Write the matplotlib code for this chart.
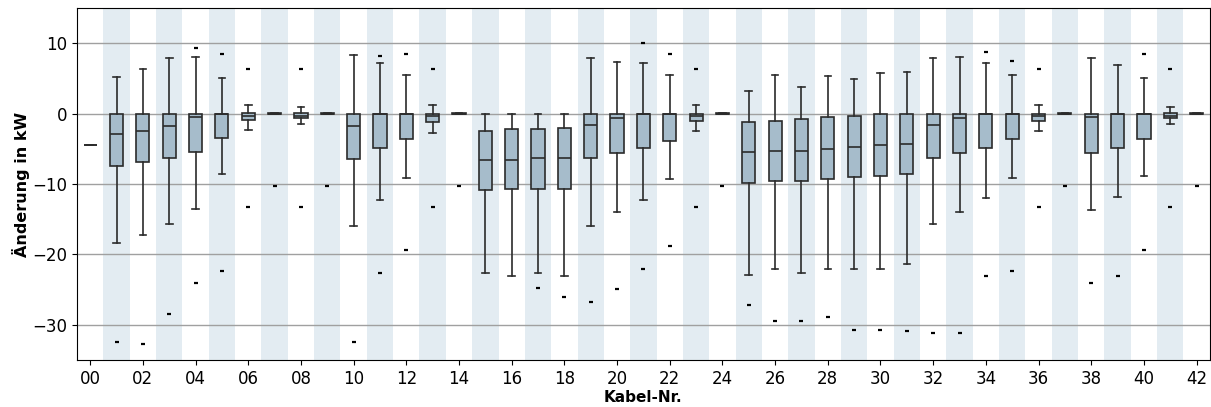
import numpy as np
import matplotlib
matplotlib.use("Agg")
import matplotlib.pyplot as plt

# Kabel-Nr. 00 .. 42
kabel = list(range(43))

q1 = [-4.4, -7.4, -6.9, -6.3, -5.5, -3.5, -0.9, 0.0, -0.6, 0.0,
      -6.4, -4.9, -3.65, -1.2, 0.0, -10.8, -10.7, -10.7, -10.7, -6.35,
      -5.6, -4.9, -3.8, -1.0, 0.0, -9.9, -9.6, -9.5, -9.3, -9.05,
      -8.8, -8.5, -6.35, -5.6, -4.9, -3.65, -1.0, 0.0, -5.6, -4.8,
      -3.65, -0.65, 0.0]
med = [-4.4, -2.9, -2.4, -1.7, -0.4, 0.0, -0.3, 0.0, -0.3, 0.0,
       -1.8, 0.0, 0.0, -0.3, 0.0, -6.6, -6.5, -6.35, -6.35, -1.65,
       -0.6, 0.0, 0.0, -0.3, 0.0, -5.45, -5.3, -5.3, -5.0, -4.75,
       -4.5, -4.25, -1.65, -0.6, 0.0, 0.0, -0.3, 0.0, -0.5, 0.0,
       0.0, -0.3, 0.0]
q3 = [-4.4, 0.0, 0.0, 0.0, 0.0, 0.0, 0.1, 0.1, 0.1, 0.1,
      0.0, 0.0, 0.0, 0.0, 0.1, -2.5, -2.2, -2.2, -2.0, 0.0,
      0.0, 0.0, 0.0, 0.0, 0.1, -1.2, -1.05, -0.75, -0.5, -0.25,
      0.0, 0.0, 0.0, 0.0, 0.0, 0.0, 0.0, 0.1, 0.0, 0.0,
      0.0, 0.1, 0.1]
whislo = [-4.4, -18.4, -17.2, -15.6, -13.6, -8.5, -2.3, 0.0, -1.5, 0.0,
          -15.9, -12.3, -9.1, -2.7, 0.0, -22.7, -23.0, -22.7, -23.0, -15.9,
          -13.9, -12.2, -9.2, -2.5, 0.0, -22.9, -22.0, -22.6, -22.0, -22.0,
          -22.0, -21.4, -15.7, -14.0, -12.0, -9.1, -2.5, 0.0, -13.7, -11.8,
          -8.9, -1.4, 0.0]
whishi = [-4.4, 5.3, 6.4, 7.9, 8.1, 5.1, 1.3, 0.15, 0.95, 0.15,
          8.4, 7.2, 5.45, 1.3, 0.15, 0.0, 0.0, 0.0, 0.0, 7.9,
          7.35, 7.2, 5.45, 1.3, 0.15, 3.3, 5.5, 3.8, 5.4, 4.9,
          5.8, 6.0, 7.9, 8.1, 7.2, 5.45, 1.3, 0.15, 8.0, 7.0,
          5.1, 0.95, 0.15]
fliers = [[], [-32.4], [-32.7], [-28.5], [9.4, -24.1], [8.5, -22.4], [6.3, -13.3], [-10.3], [6.3, -13.3], [-10.3],
          [-32.4], [8.2, -22.6], [8.5, -19.3], [6.3, -13.3], [-10.3], [], [], [-24.7], [-26.0], [-26.7],
          [-24.9], [10.1, -22.1], [8.5, -18.8], [6.3, -13.3], [-10.3], [-27.2], [-29.4], [-29.4], [-28.9], [-30.7],
          [-30.7], [-30.9], [-31.2], [-31.1], [8.8, -23.1], [7.5, -22.4], [6.3, -13.3], [-10.3], [-24.1], [-23.1],
          [8.5, -19.3], [6.3, -13.3], [-10.3]]

stats = []
for i in kabel:
    stats.append(dict(q1=q1[i], med=med[i], q3=q3[i], whislo=whislo[i],
                      whishi=whishi[i], fliers=fliers[i]))

fig = plt.figure(figsize=(12.11, 4.07), dpi=100)
ax = fig.add_axes([0.0636, 0.1155, 0.9354, 0.8641])

# abwechselnde Hintergrundstreifen
for i in kabel:
    if i % 2 == 1:
        ax.axvspan(i - 0.5, i + 0.5, color="#e3ecf2", zorder=0, lw=0)

ax.yaxis.grid(True, color="#a0a0a0", lw=1, zorder=1)
ax.set_axisbelow(True)

edge = "#2b2b2b"
ax.bxp(stats, positions=kabel, widths=0.5, patch_artist=True,
       boxprops=dict(facecolor="#a6bccb", edgecolor=edge, lw=1.2),
       medianprops=dict(color=edge, lw=1.2),
       whiskerprops=dict(color=edge, lw=1.2),
       capprops=dict(color=edge, lw=1.2),
       flierprops=dict(marker="_", markersize=3, markeredgewidth=1.6,
                       markeredgecolor="black"),
       zorder=3)

ax.set_xlim(-0.5, 42.5)
ax.set_ylim(-35, 15)
ax.set_xticks(kabel[::2])
ax.set_xticklabels([f"{k:02d}" for k in kabel[::2]])
ax.set_yticks([-30, -20, -10, 0, 10])
ax.tick_params(labelsize=12)
ax.set_xlabel("Kabel-Nr.", fontsize=11, fontweight="bold", labelpad=2)
ax.set_ylabel("Änderung in kW", fontsize=11.5, fontweight="bold", labelpad=2)

fig.savefig("out.png", dpi=100)
